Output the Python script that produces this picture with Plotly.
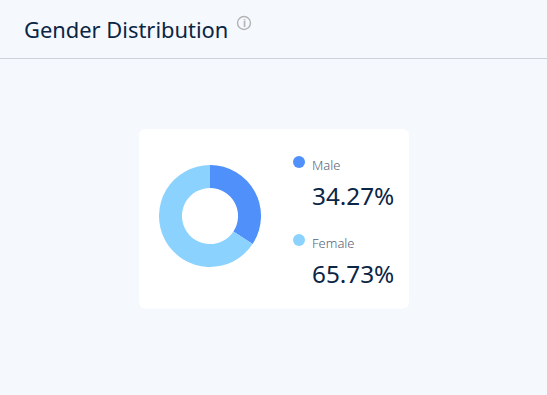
import plotly.graph_objects as go

W, H = 547, 395
title = "Gender Distribution"
categories = ["Male", "Female"]
values = [34.27, 65.73]
colors = ["#5090FA", "#8CD2FF"]
value_labels = ["34.27%", "65.73%"]

FONT = "Noto Sans"
DARK = "#0B2545"
GREY = "#56657A"

def px(x): return x / W
def py(y): return 1 - y / H

def rounded(x0, y0, x1, y1, r):
    a, b, c, d = px(x0), py(y0), px(x1), py(y1)
    rx, ry = r / W, r / H
    return (f"M{a+rx},{b} L{c-rx},{b} Q{c},{b} {c},{b-ry} L{c},{d+ry} Q{c},{d} {c-rx},{d} "
            f"L{a+rx},{d} Q{a},{d} {a},{d+ry} L{a},{b-ry} Q{a},{b} {a+rx},{b} Z")

fig = go.Figure(go.Pie(
    labels=categories, values=values, hole=0.55, sort=False, direction="clockwise", rotation=0,
    marker=dict(colors=colors, line=dict(width=0)), textinfo="none", showlegend=False,
    domain=dict(x=[px(159), px(261)], y=[py(267), py(165)]),
))

shapes = [
    dict(type="line", xref="paper", yref="paper", x0=0, x1=1, y0=py(58.5), y1=py(58.5),
         line=dict(color="#CDD2DA", width=1), layer="below"),
    dict(type="path", xref="paper", yref="paper", path=rounded(139, 129, 409, 308.5, 7),
         fillcolor="#FFFFFF", line=dict(width=0), layer="below"),
    dict(type="circle", xref="paper", yref="paper", x0=px(237.5), x1=px(250.5), y0=py(29.5), y1=py(16.5),
         line=dict(color="#B4B4B4", width=1.4), fillcolor="rgba(0,0,0,0)"),
]
annotations = [
    dict(text=title, x=px(21.5), y=py(30), font=dict(size=21.9, color=DARK, family=FONT)),
    dict(text="<b>i</b>", x=px(244), y=py(23), font=dict(size=10, color="#B4B4B4", family=FONT)),
]
rows = [(162, 164, 195), (240, 242, 273)]
for i, (dot_y, lab_y, val_y) in enumerate(rows):
    shapes.append(dict(type="circle", xref="paper", yref="paper", x0=px(293), x1=px(305),
                       y0=py(dot_y + 6), y1=py(dot_y - 6), fillcolor=colors[i], line=dict(width=0)))
    annotations.append(dict(text=categories[i], x=px(310), y=py(lab_y + 0.5),
                            font=dict(size=13, color=GREY, family=FONT, weight=300)))
    annotations.append(dict(text=value_labels[i], x=px(309.7), y=py(val_y),
                            font=dict(size=24.3, color=DARK, family=FONT)))
for a in annotations:
    a.update(xref="paper", yref="paper", xanchor="left", yanchor="middle", showarrow=False)
    if "<b>" in a["text"]:
        a["xanchor"] = "center"

fig.update_layout(width=W, height=H, margin=dict(l=0, r=0, t=0, b=0), autosize=False,
                  paper_bgcolor="#F5F8FD", plot_bgcolor="#F5F8FD",
                  shapes=shapes, annotations=annotations)
fig.write_html("out.html", config=dict(displayModeBar=False),
               post_script="document.body.style.margin='0';document.body.style.overflow='hidden';")
